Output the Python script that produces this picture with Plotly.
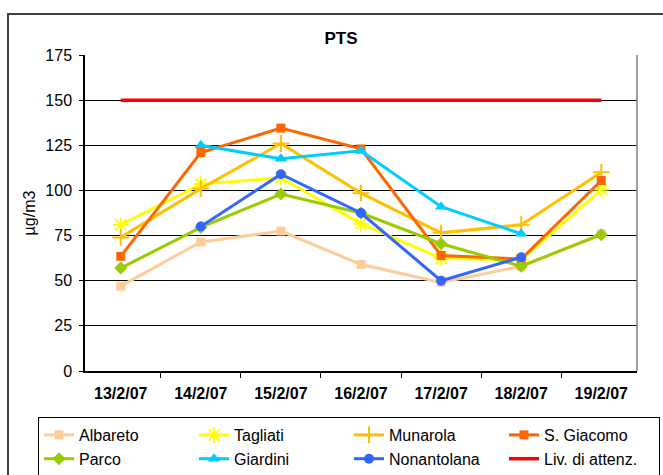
import plotly.graph_objects as go

dates = ["13/2/07", "14/2/07", "15/2/07", "16/2/07", "17/2/07", "18/2/07", "19/2/07"]
albareto = [47, 71.5, 77.5, 59, 49, 58, 76]
tagliati = [81, 103.5, 107, 81.5, 62.5, 61.5, 100.5]
munarola = [74, 101, 126, 98.5, 76.5, 81, 110]
s_giacomo = [63.5, 121, 134.5, 123, 64, 62, 105.5]
parco = [57, 79.5, 98, 87.5, 70.5, 58, 75.5]
giardini = [None, 125, 117.5, 122, 91, 76, None]
nonantolana = [None, 80, 109, 87.5, 50, 63, None]
liv_attenz = [150, 150, 150, 150, 150, 150, 150]

FONT = "Liberation Sans, Arial, sans-serif"

series = [
    ("Albareto", albareto, "#FFCC99", "square", 9, 0),
    ("Tagliati", tagliati, "#FFFF00", "asterisk-open", 13, 2),
    ("Munarola", munarola, "#FFC000", "cross-thin-open", 12, 2),
    ("S. Giacomo", s_giacomo, "#FF6600", "square", 9, 0),
    ("Parco", parco, "#99CC00", "diamond", 10, 0),
    ("Giardini", giardini, "#00CCFF", "triangle-up", 11, 0),
    ("Nonantolana", nonantolana, "#3366FF", "circle", 10, 0),
]

fig = go.Figure()
for name, vals, color, sym, size, lw in series:
    mk = dict(symbol=sym, size=size, color=color)
    if lw:
        mk["line"] = dict(color=color, width=lw)
    fig.add_trace(go.Scatter(
        x=dates, y=vals, name=name, mode="lines+markers",
        line=dict(color=color, width=3), marker=mk, connectgaps=False,
    ))
fig.add_trace(go.Scatter(
    x=dates, y=liv_attenz, name="Liv. di attenz.", mode="lines",
    line=dict(color="#FF0000", width=3.5),
))

fig.update_layout(
    width=663, height=475,
    margin=dict(l=85, r=26, t=55, b=104, autoexpand=False),
    paper_bgcolor="white", plot_bgcolor="white",
    font=dict(family=FONT, color="black", size=16),
    title=dict(text="<b>PTS</b>", x=341 / 663, xanchor="center", xref="container",
               y=1 - 38 / 475, yanchor="middle", yref="container",
               font=dict(size=17, family=FONT, color="black")),
    showlegend=True,
    legend=dict(
        orientation="h", x=(38 - 85) / 552, xanchor="left",
        y=(371 - 417) / 316, yanchor="top",
        bordercolor="black", borderwidth=1, bgcolor="white",
        entrywidth=110, entrywidthmode="pixels",
        font=dict(size=16, family=FONT, color="black"),
        traceorder="normal",
    ),
    xaxis=dict(
        type="category", showgrid=False, showline=True, linecolor="black", linewidth=1.5,
        ticks="outside", tickson="boundaries", ticklen=5, tickcolor="black",
        tickfont=dict(size=16, family=FONT, color="black", weight="bold"),
        ticklabelstandoff=7, zeroline=False, automargin=False,
    ),
    yaxis=dict(
        range=[0, 175], tickvals=[0, 25, 50, 75, 100, 125, 150, 175],
        showgrid=True, gridcolor="black", gridwidth=1,
        showline=True, linecolor="black", linewidth=1.5,
        ticks="outside", ticklen=4, tickcolor="black",
        tickfont=dict(size=16, family=FONT, color="black"),
        ticklabelstandoff=4,
        title=dict(text="µg/m3", font=dict(size=16, family=FONT, color="black"), standoff=6),
        zeroline=False, automargin=False,
    ),
    shapes=[
        dict(type="rect", xref="paper", yref="paper",
             x0=(8 - 85) / 552, x1=(668 - 85) / 552,
             y0=(371 - 480) / 316, y1=(371 - 14) / 316,
             line=dict(color="#404040", width=2), layer="below"),
        dict(type="line", xref="paper", yref="paper", x0=1, x1=1, y0=0, y1=1,
             line=dict(color="#808080", width=1.5)),
    ],
)

fig.write_html("out.html", config={"displayModeBar": False},
               post_script="document.body.style.margin='0';")
